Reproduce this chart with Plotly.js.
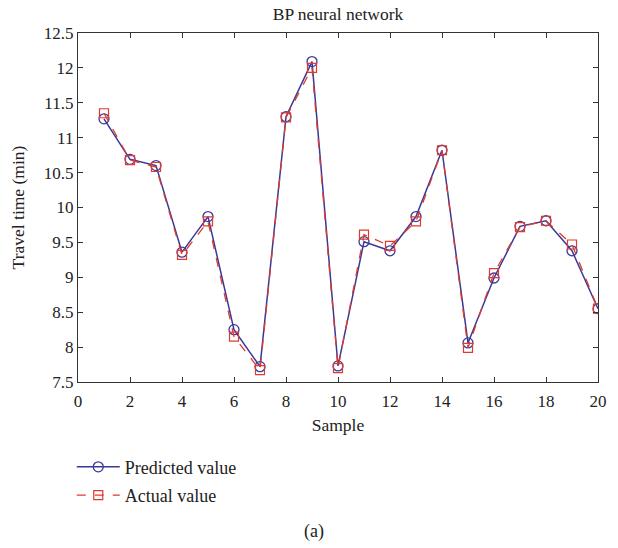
<!DOCTYPE html>
<html>
<head>
<meta charset="utf-8">
<script src="https://cdn.plot.ly/plotly-3.0.1.min.js"></script>
<style>html,body{margin:0;padding:0;background:#fff;}#chart{width:618px;height:548px;}</style>
</head>
<body>
<div id="chart"></div>
<script>
const samples = [1,2,3,4,5,6,7,8,9,10,11,12,13,14,15,16,17,18,19,20];
const predicted = [11.27,10.69,10.60,9.36,9.87,8.25,7.72,11.30,12.09,7.73,9.51,9.38,9.87,10.82,8.06,8.99,9.73,9.81,9.38,8.55];
const actual = [11.35,10.68,10.58,9.32,9.80,8.15,7.67,11.29,12.00,7.70,9.61,9.45,9.80,10.82,7.99,9.06,9.72,9.81,9.47,8.55];
const xTicks = [0,2,4,6,8,10,12,14,16,18,20];
const yTicks = [7.5,8,8.5,9,9.5,10,10.5,11,11.5,12,12.5];
const yTickText = ['7.5','8','8.5','9','9.5','10','10.5','11','11.5','12','12.5'];

const fam = '"Liberation Serif", "DejaVu Serif", serif';
const font = {family: fam, size: 17, color: '#222'};

const traces = [
  {x: samples, y: predicted, name: 'Predicted value', mode: 'lines+markers', legend: 'legend',
   line: {color: '#3b3897', width: 1.5},
   marker: {symbol: 'circle-open', size: 10, color: '#3b3897', line: {width: 1.3}}},
  {x: samples, y: actual, name: 'Actual value', mode: 'lines+markers', legend: 'legend2',
   line: {color: '#e03a2f', width: 1.3, dash: 'dash'},
   marker: {symbol: 'square-open', size: 9, color: '#e03a2f', line: {width: 1.2}}}
];

const legendBase = {x: -0.012, xanchor: 'left', yanchor: 'middle', font: {family: fam, size: 18, color: '#222'},
  bgcolor: 'rgba(0,0,0,0)', itemwidth: 43};

const layout = {
  width: 618, height: 548,
  margin: {l: 78, r: 20, t: 33, b: 166},
  paper_bgcolor: '#fff', plot_bgcolor: '#fff',
  font: font,
  title: {text: 'BP neural network', font: {family: fam, size: 17.5, color: '#222'}, x: 0.5, xref: 'paper', xanchor: 'center', y: 0.974, yanchor: 'middle'},
  xaxis: {range: [0, 20], tickvals: xTicks, ticks: 'inside', ticklen: 5, tickcolor: '#333', ticklabelstandoff: 3,
    showline: true, linecolor: '#333', linewidth: 1.2, mirror: 'ticks', showgrid: false, zeroline: false,
    title: {text: 'Sample', font: {family: fam, size: 17.5, color: '#222'}, standoff: 9}},
  yaxis: {range: [7.5, 12.5], tickvals: yTicks, ticktext: yTickText, ticks: 'inside', ticklen: 5, tickcolor: '#333',
    showline: true, linecolor: '#333', linewidth: 1.2, mirror: 'ticks', showgrid: false, zeroline: false,
    title: {text: 'Travel time (min)', font: {family: fam, size: 17.5, color: '#222'}, standoff: 14}},
  showlegend: true,
  legend: Object.assign({}, legendBase, {y: -0.244}),
  legend2: Object.assign({}, legendBase, {y: -0.325}),
  annotations: [{text: '(a)', xref: 'paper', yref: 'paper', x: 0.454, y: -0.427, xanchor: 'center', yanchor: 'middle',
    showarrow: false, font: {family: fam, size: 18, color: '#222'}}]
};

Plotly.newPlot('chart', traces, layout, {displayModeBar: false, staticPlot: true});
</script>
</body>
</html>
